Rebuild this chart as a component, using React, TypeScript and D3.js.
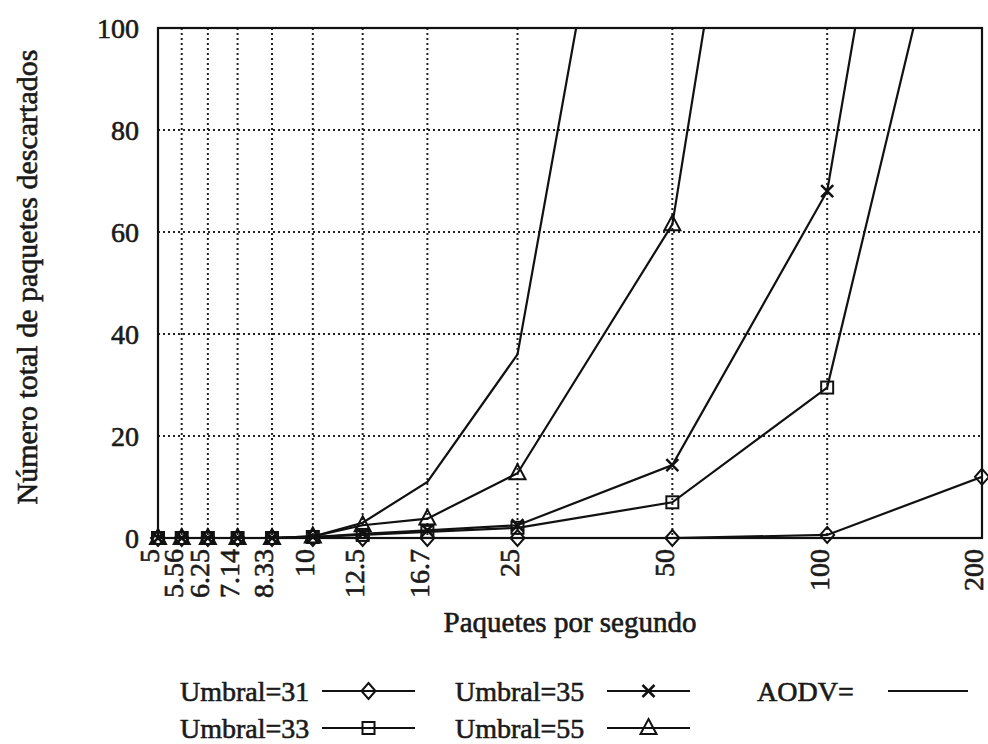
import React from "react";
import * as d3 from "d3";

const xValues = [5, 5.56, 6.25, 7.14, 8.33, 10, 12.5, 16.7, 25, 50, 100, 200];
const xTickLabels = ["5", "5.56", "6.25", "7.14", "8.33", "10", "12.5", "16.7", "25", "50", "100", "200"];
const yTicks = [0, 20, 40, 60, 80, 100];

const umbral31 = [0, 0, 0, 0, 0, 0, 0, 0, 0, 0, 0.6, 12];
const umbral33 = [0, 0, 0, 0, 0, 0.2, 0.6, 1.2, 2, 7, 29.5, 156];
const umbral35 = [0, 0, 0, 0, 0, 0.2, 0.8, 1.5, 2.5, 14.3, 68, 245];
const umbral55 = [0, 0, 0, 0, 0, 0.3, 2.5, 3.8, 12.7, 61.5, 250];
const aodv = [0, 0, 0, 0, 0, 0.3, 3, 11, 36, 205];

const seriesNames = ["Umbral=31", "Umbral=33", "Umbral=35", "Umbral=55", "AODV="];
const seriesData = [umbral31, umbral33, umbral35, umbral55, aodv];
const seriesMarkers = ["diamond", "square", "cross", "triangle", "none"];

const W = 988, H = 744;
const L = 158, R = 982, T = 28, B = 538;
const FONT = "'Liberation Serif', 'Times New Roman', serif";
const INK = "#1a1a1a";

function Marker({ kind, x, y }: { kind: string; x: number; y: number }) {
  const s = 7;
  const common = { fill: "none", stroke: "#111", strokeWidth: 2 };
  if (kind === "diamond")
    return <path d={`M${x},${y - s - 1}L${x + s},${y}L${x},${y + s + 1}L${x - s},${y}Z`} {...common} />;
  if (kind === "square")
    return <rect x={x - 6} y={y - 6} width={12} height={12} {...common} />;
  if (kind === "cross")
    return <path d={`M${x - 6},${y - 6}L${x + 6},${y + 6}M${x - 6},${y + 6}L${x + 6},${y - 6}`} {...common} strokeWidth={2.5} />;
  if (kind === "triangle")
    return <path d={`M${x},${y - 9}L${x + 8},${y + 6}L${x - 8},${y + 6}Z`} {...common} />;
  return null;
}

export default function App() {
  const x = d3.scaleLog().domain([5, 200]).range([L, R]);
  const y = d3.scaleLinear().domain([0, 100]).range([B, T]);
  const line = d3
    .line<number>()
    .x((_, i) => x(xValues[i]))
    .y((d) => y(d));

  const legendCols = [180, 455, 757];
  const legendLines = [
    [322, 415],
    [607, 690],
    [888, 968],
  ];
  const legendRows = [691, 728];
  const legendPos = [
    [0, 0],
    [0, 1],
    [1, 0],
    [1, 1],
    [2, 0],
  ];
  const textStyle = { fill: INK, stroke: INK, strokeWidth: 0.6 };

  return (
    <svg
      width={W}
      height={H}
      style={{ position: "absolute", left: 0, top: 0, background: "#fff" }}
      fontFamily={FONT}
    >
      <defs>
        <clipPath id="plot">
          <rect x={L} y={T} width={R - L} height={B - T} />
        </clipPath>
      </defs>
      <rect x={0} y={0} width={W} height={H} fill="#fff" />
      {/* grid */}
      {yTicks.slice(1, -1).map((t) => (
        <line key={"gy" + t} x1={L} x2={R} y1={y(t)} y2={y(t)} stroke="#222" strokeWidth={2} strokeDasharray="2,3" />
      ))}
      {xValues.slice(1, -1).map((v) => (
        <line key={"gx" + v} x1={x(v)} x2={x(v)} y1={T} y2={B} stroke="#222" strokeWidth={2} strokeDasharray="2,3" />
      ))}
      {/* series lines */}
      <g clipPath="url(#plot)">
        {seriesData.map((d, si) => (
          <path key={"s" + si} d={line(d) || ""} fill="none" stroke="#111" strokeWidth={2.2} />
        ))}
      </g>
      {/* markers */}
      {seriesData.map((d, si) =>
        d.map((v, i) =>
          v <= 100 ? <Marker key={"m" + si + "-" + i} kind={seriesMarkers[si]} x={x(xValues[i])} y={y(v)} /> : null
        )
      )}
      {/* frame */}
      <rect x={L} y={T} width={R - L} height={B - T} fill="none" stroke="#111" strokeWidth={2.2} />
      {/* y ticks */}
      {yTicks.map((t) => (
        <text key={"yt" + t} x={139} y={y(t)} dy="0.35em" textAnchor="end" fontSize={28} {...textStyle}>
          {t}
        </text>
      ))}
      {/* x ticks */}
      {xValues.map((v, i) => (
        <text
          key={"xt" + v}
          transform={`translate(${x(v) - 7},${B + 11}) rotate(-90)`}
          dy="0.3em"
          textAnchor="end"
          fontSize={28}
          {...textStyle}
        >
          {xTickLabels[i]}
        </text>
      ))}
      {/* axis titles */}
      <text x={(L + R) / 2} y={632} textAnchor="middle" fontSize={29} {...textStyle}>
        Paquetes por segundo
      </text>
      <text transform={`translate(37,${(T + B) / 2 - 6}) rotate(-90)`} textAnchor="middle" fontSize={30} {...textStyle}>
        Número total de paquetes descartados
      </text>
      {/* legend */}
      {seriesNames.map((name, si) => {
        const [c, r] = legendPos[si];
        const ly = legendRows[r];
        const [lx1, lx2] = legendLines[c];
        return (
          <g key={"lg" + si}>
            <text x={legendCols[c]} y={ly} dy="0.35em" fontSize={28} {...textStyle}>
              {name}
            </text>
            <line x1={lx1} x2={lx2} y1={ly} y2={ly} stroke="#111" strokeWidth={2.2} />
            <Marker kind={seriesMarkers[si]} x={(lx1 + lx2) / 2} y={ly} />
          </g>
        );
      })}
    </svg>
  );
}
